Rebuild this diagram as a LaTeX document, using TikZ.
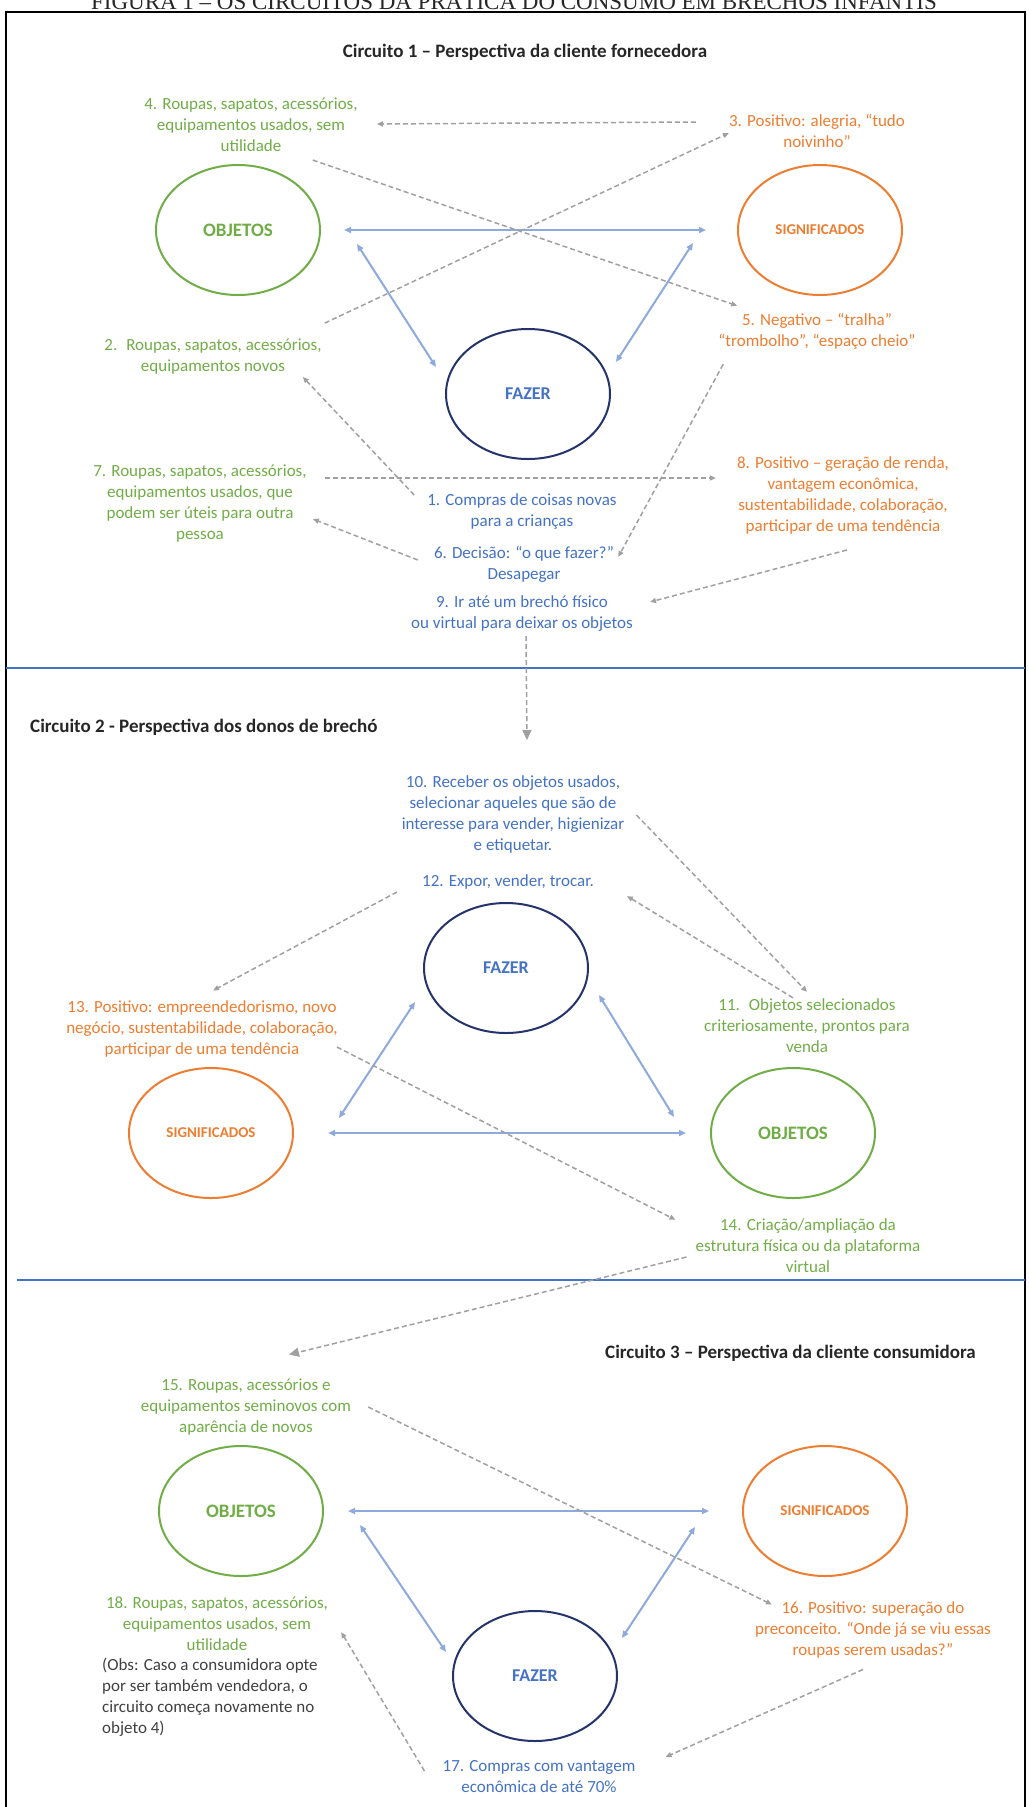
\documentclass[tikz,border=0pt]{standalone}
\usepackage{fontspec}
\setmainfont{Carlito}
\newfontfamily\legendafont{Liberation Serif}
\usetikzlibrary{arrows.meta,shapes.geometric}
\definecolor{verde}{HTML}{70AD47}
\definecolor{laranja}{HTML}{ED7D31}
\definecolor{azul}{HTML}{4472C4}
\definecolor{marinho}{HTML}{24346B}
\definecolor{azulclaro}{HTML}{8EA9DB}
\definecolor{cinza}{HTML}{A0A0A0}
\definecolor{grafite}{HTML}{404040}

\begin{document}
\begin{tikzpicture}[x = 1pt, y = -1pt, font = \fontsize{17}{21}\selectfont]
\tikzstyle{ElipseStyle}=[
shape = ellipse,
minimum width = 164pt,
minimum height = 130pt,
inner sep = 0pt,
line width = 2pt,
draw]
\tikzstyle{ObjetosStyle}=[ElipseStyle, draw = verde, text = verde, font = \fontsize{19}{21}\selectfont\bfseries]
\tikzstyle{SignificadosStyle}=[ElipseStyle, draw = laranja, text = laranja, font = \fontsize{15}{18}\selectfont\bfseries]
\tikzstyle{FazerStyle}=[ElipseStyle, draw = marinho, text = azul, font = \fontsize{18}{21}\selectfont\bfseries]
\tikzstyle{TextoStyle}=[align = center, inner sep = 2pt]
\tikzstyle{VerdeStyle}=[TextoStyle, text = verde]
\tikzstyle{LaranjaStyle}=[TextoStyle, text = laranja]
\tikzstyle{AzulStyle}=[TextoStyle, text = azul]
\tikzstyle{TituloStyle}=[inner sep = 2pt, text = black!85, font = \fontsize{19}{23}\selectfont\bfseries]
\tikzstyle{DuplaStyle}=[{Triangle[length = 7pt, width = 6pt]}-{Triangle[length = 7pt, width = 6pt]}, line width = 2pt, draw = azulclaro]
\tikzstyle{TracejadaStyle}=[-{Triangle[length = 6pt, width = 5pt]}, line width = 1.5pt, draw = cinza, dash pattern = on 5pt off 3pt]
\tikzstyle{PassagemStyle}=[TracejadaStyle, -{Triangle[length = 10pt, width = 9pt]}]

\useasboundingbox (0,0) rectangle (1028,1807);
\draw[line width = 2pt] (6,12) rectangle (1025,1815);
\draw[azul, line width = 1.2pt] (6,668) -- (1025,668);
\draw[azul, line width = 1.2pt] (17,1280) -- (1025,1280);
\node[anchor = base, text = black!85, font = \legendafont\fontsize{23}{26}\selectfont] (legenda) at (514,9.5) {FIGURA 1 – OS CIRCUITOS DA PRÁTICA DO CONSUMO EM BRECHÓS INFANTIS};

\node[TituloStyle] (c1) at (525,52) {Circuito 1 – Perspectiva da cliente fornecedora};
\node[VerdeStyle] (t4) at (251,125) {4. Roupas, sapatos, acessórios,\\ equipamentos usados, sem\\ utilidade};
\node[LaranjaStyle] (t3) at (817,131) {3. Positivo: alegria, “tudo\\ noivinho”};
\node[ObjetosStyle] (o1) at (238,230) {OBJETOS};
\node[SignificadosStyle] (s1) at (820,230) {SIGNIFICADOS};
\node[FazerStyle] (f1) at (528,394) {FAZER};
\node[VerdeStyle] (t2) at (213,357) {2.~ Roupas, sapatos, acessórios,\\ equipamentos novos};
\node[LaranjaStyle] (t5) at (817,331) {5. Negativo – “tralha”\\ “trombolho”, “espaço cheio”};
\node[VerdeStyle] (t7) at (200,504) {7. Roupas, sapatos, acessórios,\\ equipamentos usados, que\\ podem ser úteis para outra\\ pessoa};
\node[AzulStyle] (t1) at (522,512) {1. Compras de coisas novas\\ para a crianças};
\node[AzulStyle] (t6) at (524,564) {6. Decisão: “o que fazer?”\\ Desapegar};
\node[AzulStyle] (t9) at (522,614) {9. Ir até um brechó físico\\ ou virtual para deixar os objetos};
\node[LaranjaStyle] (t8) at (843,495) {8. Positivo – geração de renda,\\ vantagem econômica,\\ sustentabilidade, colaboração,\\ participar de uma tendência};

\draw[DuplaStyle] ([xshift = 23pt]o1.east) -- ([xshift = -31pt]s1.west);
\draw[DuplaStyle] ([xshift = 36pt, yshift = -14pt]o1.east) -- ([xshift = -9pt, yshift = 27pt]f1.west);
\draw[DuplaStyle] ([xshift = -44pt, yshift = -13pt]s1.west) -- ([xshift = 5pt, yshift = 32pt]f1.east);
\draw[TracejadaStyle] ([xshift = -11pt, yshift = -3pt]t1.north west) -- ([xshift = -21pt]t2.south east);
\draw[TracejadaStyle] ([xshift = 1pt, yshift = 14pt]t2.north east) -- ([xshift = 2pt, yshift = -2pt]t3.west);
\draw[TracejadaStyle] ([xshift = -31pt, yshift = 9pt]t3.west) -- ([xshift = 17pt, yshift = 1pt]t4.east);
\draw[TracejadaStyle] ([xshift = -47pt, yshift = -6pt]t4.south east) -- ([xshift = 21pt, yshift = 5pt]t5.north west);
\draw[TracejadaStyle] ([xshift = 7pt, yshift = -13pt]t5.south west) -- ([xshift = 2pt, yshift = 7pt]t6.east);
\draw[TracejadaStyle] ([xshift = -14pt, yshift = 4pt]t6.west) -- ([xshift = 4pt, yshift = -15pt]t7.east);
\draw[TracejadaStyle] ([xshift = 16pt, yshift = 26pt]t7.east) -- ([xshift = -19pt, yshift = 17pt]t8.west);
\draw[TracejadaStyle] ([xshift = 4pt, yshift = -14pt]t8.south) -- ([xshift = 15pt, yshift = 12pt]t9.east);

\node[TituloStyle, anchor = west] (c2) at (28,727) {Circuito 2 - Perspectiva dos donos de brechó};
\node[AzulStyle] (t10) at (513,814) {10. Receber os objetos usados,\\ selecionar aqueles que são de\\ interesse para vender, higienizar\\ e etiquetar.};
\node[AzulStyle] (t12) at (508,882) {12. Expor, vender, trocar.};
\node[FazerStyle] (f2) at (506,968) {FAZER};
\node[LaranjaStyle] (t13) at (202,1029) {13. Positivo: empreendedorismo, novo\\ negócio, sustentabilidade, colaboração,\\ participar de uma tendência};
\node[VerdeStyle] (t11) at (807,1026) {11.~ Objetos selecionados\\ criteriosamente, prontos para\\ venda};
\node[SignificadosStyle] (s2) at (211,1133) {SIGNIFICADOS};
\node[ObjetosStyle] (o2) at (793,1133) {OBJETOS};
\node[VerdeStyle] (t14) at (808,1246) {14. Criação/ampliação da\\ estrutura física ou da plataforma\\ virtual};

\draw[PassagemStyle] ([xshift = 4pt, yshift = -2pt]t9.south) -- ([xshift = 14pt, yshift = 33pt]t10.north);
\draw[DuplaStyle] ([xshift = 34pt]s2.east) -- ([xshift = -24pt]o2.west);
\draw[DuplaStyle] ([xshift = -8pt, yshift = -34pt]f2.west) -- ([xshift = 45pt, yshift = 15pt]s2.east);
\draw[DuplaStyle] ([xshift = 10pt, yshift = -27pt]f2.east) -- ([xshift = -36pt, yshift = 16pt]o2.west);
\draw[TracejadaStyle] ([xshift = 10pt, yshift = -1pt]t10.east) -- ([yshift = 5pt]t11.north);
\draw[TracejadaStyle] ([xshift = -14pt, yshift = -1pt]t11.north) -- ([xshift = 31pt, yshift = -14pt]t12.east);
\draw[TracejadaStyle] ([xshift = -23pt, yshift = -10pt]t12.west) -- ([xshift = 11pt, yshift = 8pt]t13.north);
\draw[TracejadaStyle] ([xshift = -3pt, yshift = -18pt]t13.east) -- ([xshift = -18pt, yshift = -3pt]t14.north west);

\node[TituloStyle, anchor = west] (c3) at (603,1353) {Circuito 3 – Perspectiva da cliente consumidora};
\node[VerdeStyle] (t15) at (246,1407) {15. Roupas, acessórios e\\ equipamentos seminovos com\\ aparência de novos};
\node[ObjetosStyle] (o3) at (241,1511) {OBJETOS};
\node[SignificadosStyle] (s3) at (825,1511) {SIGNIFICADOS};
\node[FazerStyle] (f3) at (535,1676) {FAZER};
\node[VerdeStyle] (t18) at (217,1624) {18. Roupas, sapatos, acessórios,\\ equipamentos usados, sem\\ utilidade};
\node[TextoStyle, align = left, anchor = north west, text = grafite] (obs) at (100,1656) {(Obs: Caso a consumidora opte\\ por ser também vendedora, o\\ circuito começa novamente no\\ objeto 4)};
\node[LaranjaStyle] (t16) at (873,1630) {16. Positivo: superação do\\ preconceito. “Onde já se viu essas\\ roupas serem usadas?”};
\node[AzulStyle] (t17) at (539,1777) {17. Compras com vantagem\\ econômica de até 70\%};

\draw[PassagemStyle] ([xshift = -7pt, yshift = -11pt]t14.west) -- ([xshift = 43pt, yshift = 22pt]t15.north);
\draw[DuplaStyle] ([xshift = 24pt]o3.east) -- ([xshift = -33pt]s3.west);
\draw[DuplaStyle] ([xshift = 36pt, yshift = -14pt]o3.east) -- ([xshift = -6pt, yshift = 24pt]f3.west);
\draw[DuplaStyle] ([xshift = -47pt, yshift = -16pt]s3.west) -- ([xshift = 4pt, yshift = 38pt]f3.east);
\draw[TracejadaStyle] ([xshift = 15pt]t15.east) -- ([xshift = 19pt, yshift = -5pt]t16.north west);
\draw[TracejadaStyle] ([xshift = -10pt, yshift = -9pt]t16.south) -- ([xshift = 28pt, yshift = 20pt]t17.east);
\draw[TracejadaStyle] ([xshift = -16pt, yshift = 6pt]t17.west) -- ([xshift = 11pt, yshift = -8pt]t18.east);
\end{tikzpicture}
\end{document}
